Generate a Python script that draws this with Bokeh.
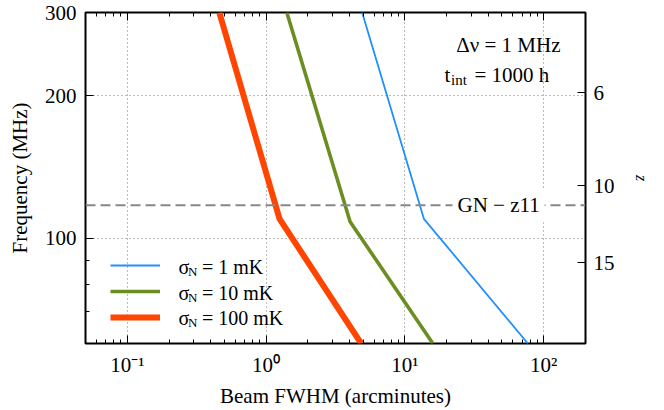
import math
from bokeh.plotting import figure
from bokeh.models import (Range1d, LogAxis, FixedTicker, CustomJSTickFormatter,
                          Span, Label, Legend, LegendItem)
from bokeh.embed import file_html
from bokeh.resources import INLINE

# ---------------- data ----------------
fwhm_1mK = [4.92, 13.7, 76.9]
freq_1mK = [300, 110, 60]
fwhm_10mK = [1.41, 4.03, 15.9]
freq_10mK = [300, 108.5, 60]
fwhm_100mK = [0.46, 1.25, 4.84]
freq_100mK = [300, 110, 60]
series_labels = ["1 mK", "10 mK", "100 mK"]
z_ticks = [6, 10, 15]
gn_z11_redshift = 11.09
nu21_mhz = 1420.40575
x_ticks = [0.1, 1, 10, 100]
x_tick_labels = ["10\u207b\u00b9", "10\u2070", "10\u00b9", "10\u00b2"]
y_ticks = [100, 200, 300]
y_minor_ticks = [60, 70, 80, 90]
# --------------------------------------

FONT = "Liberation Serif"
W, H = 664, 410
FL, FR, FT, FB = 85, 79, 12, 67
FH = H - FT - FB
sc = FH / 333.0

x_minor = [k * 10.0 ** e for e in range(-2, 3) for k in range(2, 10)]

p = figure(width=W, height=H, x_axis_type="log", y_axis_type="log",
           x_range=Range1d(0.05, 200), y_range=Range1d(60, 300),
           output_backend="svg", toolbar_location=None,
           min_border_left=FL, min_border_right=FR,
           min_border_top=FT, min_border_bottom=FB)
p.outline_line_color = "black"
p.outline_line_width = 2
p.background_fill_color = "white"
p.border_fill_color = "white"

xlab_fmt = CustomJSTickFormatter(args=dict(xt=x_ticks, xl=x_tick_labels), code="""
const i = xt.findIndex(t => Math.abs(Math.log10(t) - Math.log10(tick)) < 1e-6);
return i >= 0 ? xl[i] : "";
""")

def style_axis(ax):
    ax.axis_line_color = None
    ax.major_tick_in = 8
    ax.major_tick_out = 0
    ax.minor_tick_in = 4
    ax.minor_tick_out = 0
    ax.major_tick_line_color = "black"
    ax.minor_tick_line_color = "black"
    ax.major_label_text_font = FONT
    ax.major_label_text_font_size = "21px"
    ax.major_label_text_color = "black"
    ax.axis_label_text_font = FONT
    ax.axis_label_text_font_size = "21px"
    ax.axis_label_text_font_style = "normal"
    ax.axis_label_text_color = "black"

xa = p.xaxis[0]
xa.ticker = FixedTicker(ticks=x_ticks, minor_ticks=x_minor)
xa.formatter = xlab_fmt
style_axis(xa)
xa.axis_label = "Beam FWHM (arcminutes)"
xa.major_label_standoff = 9
xa.axis_label_standoff = 4

ya = p.yaxis[0]
ya.ticker = FixedTicker(ticks=y_ticks, minor_ticks=y_minor_ticks)
style_axis(ya)
ya.axis_label = "Frequency (MHz)"
ya.major_label_standoff = 9
ya.axis_label_standoff = 10

top = LogAxis(ticker=FixedTicker(ticks=x_ticks, minor_ticks=x_minor),
              formatter=CustomJSTickFormatter(code="return '';"))
style_axis(top)
top.major_label_standoff = 0
p.add_layout(top, "above")

z_freqs = [nu21_mhz / (1 + z) for z in z_ticks]
right = LogAxis(ticker=FixedTicker(ticks=z_freqs, minor_ticks=[]),
                formatter=CustomJSTickFormatter(args=dict(nu=nu21_mhz),
                                                code="return Math.round(nu / tick - 1).toString();"))
style_axis(right)
right.axis_label = "z"
right.axis_label_text_font_style = "italic"
right.axis_label_text_font_size = "16px"
right.major_label_standoff = 8
right.axis_label_standoff = 15
p.add_layout(right, "right")

p.xgrid.ticker = FixedTicker(ticks=x_ticks)
p.ygrid.ticker = FixedTicker(ticks=y_ticks)
for g in (p.xgrid[0], p.ygrid[0]):
    g.grid_line_color = "#777777"
    g.grid_line_dash = "1 3"
    g.grid_line_width = 1

gn_freq = nu21_mhz / (1 + gn_z11_redshift)
p.add_layout(Span(location=gn_freq, dimension="width", line_color="#888888",
                  line_width=2, line_dash="10 5"))

r1 = p.line(fwhm_1mK, freq_1mK, line_color="#1E90FF", line_width=1.8)
r2 = p.line(fwhm_10mK, freq_10mK, line_color="#6B8E23", line_width=3.6)
r3 = p.line(fwhm_100mK, freq_100mK, line_color="#FF4500", line_width=6)

legend = Legend(items=[LegendItem(label=" ", renderers=[r]) for r in (r1, r2, r3)],
                location=(25, round(15 * sc)), glyph_width=50, glyph_height=22,
                label_height=22, spacing=4, padding=0, margin=0,
                label_text_alpha=0, border_line_alpha=0, background_fill_alpha=0,
                label_standoff=18)
p.add_layout(legend)

def lab(text, x, y, size="20px", align="left", **kw):
    p.add_layout(Label(text=text, x=x, y=y, x_units="screen", y_units="screen",
                       text_font=FONT, text_font_size=size, text_align=align,
                       text_baseline="middle", text_color="black", **kw))

row_y = [77 * sc, 51 * sc, 26 * sc]
for yy, s in zip(row_y, series_labels):
    lab("\u03c3", 93, yy)
    lab("N", 102.5, yy - 5, size="13px")
    lab("= " + s, 116.5, yy)

lab("\u0394\u03bd = 1 MHz", 475, (343 - 43) * sc, size="21px", align="right")
lab("t", 359, (343 - 73) * sc, size="21px")
lab("int", 365.5, (343 - 73) * sc - 5, size="15px")
lab("= 1000 h", 389, (343 - 73) * sc, size="21px")

gn_x = 10 ** ((499 - 266.7) / 138.7)
p.add_layout(Label(text="GN \u2212 z11", x=gn_x, y=gn_freq, text_font=FONT,
                   text_font_size="21px", text_align="center", text_baseline="middle",
                   text_color="black", background_fill_color="white", padding=5))

open("out.html", "w").write(file_html(p, INLINE))
